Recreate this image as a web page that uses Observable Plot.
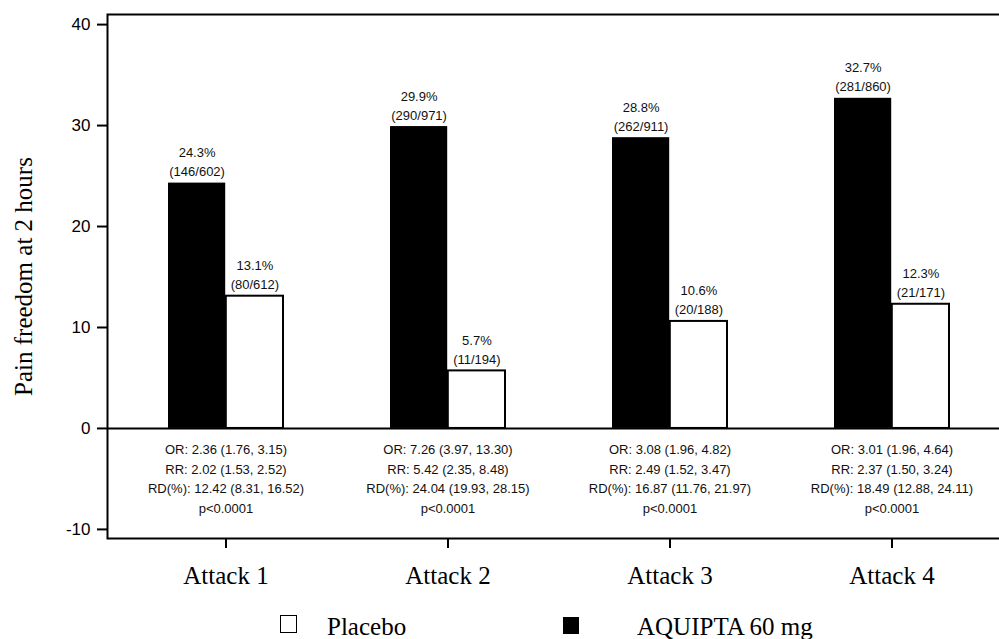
<!DOCTYPE html>
<html>
<head>
<meta charset="utf-8">
<script src="https://cdn.jsdelivr.net/npm/d3@7"></script>
<script src="https://cdn.jsdelivr.net/npm/@observablehq/plot@0.6"></script>
<style>
  html, body { margin: 0; padding: 0; background: #fff; overflow: hidden; }
  #chart { width: 999px; height: 639px; position: relative; overflow: hidden; }
  #chart svg { display: block; max-width: none !important; font-family: "Liberation Sans", Arial, sans-serif; }
  #chart svg [aria-label^="x-axis"] text { font-family: "Liberation Serif", "Times New Roman", serif; font-size: 25px; fill: #000; }
  #chart svg [aria-label^="y-axis"] text { font-size: 17px; fill: #000; }
  #chart svg [aria-label^="x-axis"] line, #chart svg [aria-label^="x-axis"] path,
  #chart svg [aria-label^="y-axis"] line, #chart svg [aria-label^="y-axis"] path { stroke-width: 2px; stroke: #000; }
  .legend { position: relative; height: 39px; font-family: "Liberation Serif", "Times New Roman", serif; font-size: 25px; line-height: 25px; color: #000; }
  .legend .sw { position: absolute; box-sizing: border-box; }
  .legend .lab { position: absolute; white-space: nowrap; }
</style>
</head>
<body>
<div id="chart"></div>
<script>
// ---- data ----
const attacks = ["Attack 1", "Attack 2", "Attack 3", "Attack 4"];
const aquiptaPct = [24.3, 29.9, 28.8, 32.7];
const aquiptaN = ["146/602", "290/971", "262/911", "281/860"];
const placeboPct = [13.1, 5.7, 10.6, 12.3];
const placeboN = ["80/612", "11/194", "20/188", "21/171"];
const orText = ["2.36 (1.76, 3.15)", "7.26 (3.97, 13.30)", "3.08 (1.96, 4.82)", "3.01 (1.96, 4.64)"];
const rrText = ["2.02 (1.53, 2.52)", "5.42 (2.35, 8.48)", "2.49 (1.52, 3.47)", "2.37 (1.50, 3.24)"];
const rdText = ["12.42 (8.31, 16.52)", "24.04 (19.93, 28.15)", "16.87 (11.76, 21.97)", "18.49 (12.88, 24.11)"];
const pText = ["p<0.0001", "p<0.0001", "p<0.0001", "p<0.0001"];
const yTicks = [-10, 0, 10, 20, 30, 40];
const yLabel = "Pain freedom at 2 hours";
const seriesNames = ["Placebo", "AQUIPTA 60 mg"];

const rows = attacks.map((a, i) => ({
  attack: a,
  aq: aquiptaPct[i], aqN: aquiptaN[i],
  pl: placeboPct[i], plN: placeboN[i],
  stats: `OR: ${orText[i]}\nRR: ${rrText[i]}\nRD(%): ${rdText[i]}\n${pText[i]}`,
  zero: 0
}));

// ---- layout ----
const W = 1010, H = 600, ML = 107, MR = 0, MT = 14, MB = 62;
const padIn = 0.48, padOut = 0.271;
const step = (W - ML - MR) / (attacks.length - padIn + 2 * padOut);
const bw = step * (1 - padIn);
const half = bw / 2;

const chart = Plot.plot({
  width: W, height: H,
  marginLeft: ML, marginRight: MR, marginTop: MT, marginBottom: MB,
  style: { maxWidth: "none" },
  x: { domain: attacks, paddingInner: padIn, paddingOuter: padOut, label: null, tickSize: 10, tickPadding: 18 },
  y: { domain: [-10.9, 41], ticks: yTicks, tickFormat: d => String(d), label: null, tickSize: 10, tickPadding: 7 },
  marks: [
    Plot.barY(rows, { x: "attack", y: "aq", fill: "black", insetRight: half, insetLeft: 0 }),
    Plot.barY(rows, { x: "attack", y: "pl", fill: "white", stroke: "black", strokeWidth: 2, insetLeft: half, insetRight: 0 }),
    Plot.ruleY([0], { stroke: "black", strokeWidth: 2 }),
    Plot.text(rows, { x: "attack", y: "aq", text: d => `${d.aq.toFixed(1)}%\n(${d.aqN})`, dx: -half / 2, dy: -7, lineAnchor: "bottom", lineHeight: 1.46, fontSize: 13, fill: "#111" }),
    Plot.text(rows, { x: "attack", y: "pl", text: d => `${d.pl.toFixed(1)}%\n(${d.plN})`, dx: half / 2, dy: -7, lineAnchor: "bottom", lineHeight: 1.46, fontSize: 13, fill: "#111" }),
    Plot.text(rows, { x: "attack", y: "zero", text: "stats", lineAnchor: "top", dy: 12, lineHeight: 1.5, fontSize: 13, fill: "#111" }),
    Plot.text([yLabel], { frameAnchor: "left", textAnchor: "middle", rotate: -90, dx: -84, fontSize: 25, fontFamily: "Liberation Serif, Times New Roman, serif", fill: "#000" }),
    Plot.frame({ stroke: "black", strokeWidth: 2 })
  ]
});

const root = document.getElementById("chart");
root.appendChild(chart);

// legend below the svg
const leg = document.createElement("div");
leg.className = "legend";
const items = [
  { name: seriesNames[0], fill: "#fff", border: "1.5px solid #000", sx: 280, sy: 15, sw: 17, sh: 18, tx: 327 },
  { name: seriesNames[1], fill: "#000", border: "none", sx: 563, sy: 17, sw: 16, sh: 17, tx: 637 }
];
for (const it of items) {
  const s = document.createElement("div");
  s.className = "sw";
  Object.assign(s.style, { left: it.sx + "px", top: it.sy + "px", width: it.sw + "px", height: it.sh + "px", background: it.fill, border: it.border });
  leg.appendChild(s);
  const t = document.createElement("div");
  t.className = "lab";
  t.textContent = it.name;
  Object.assign(t.style, { left: it.tx + "px", top: "14px" });
  leg.appendChild(t);
}
root.appendChild(leg);
</script>
</body>
</html>
